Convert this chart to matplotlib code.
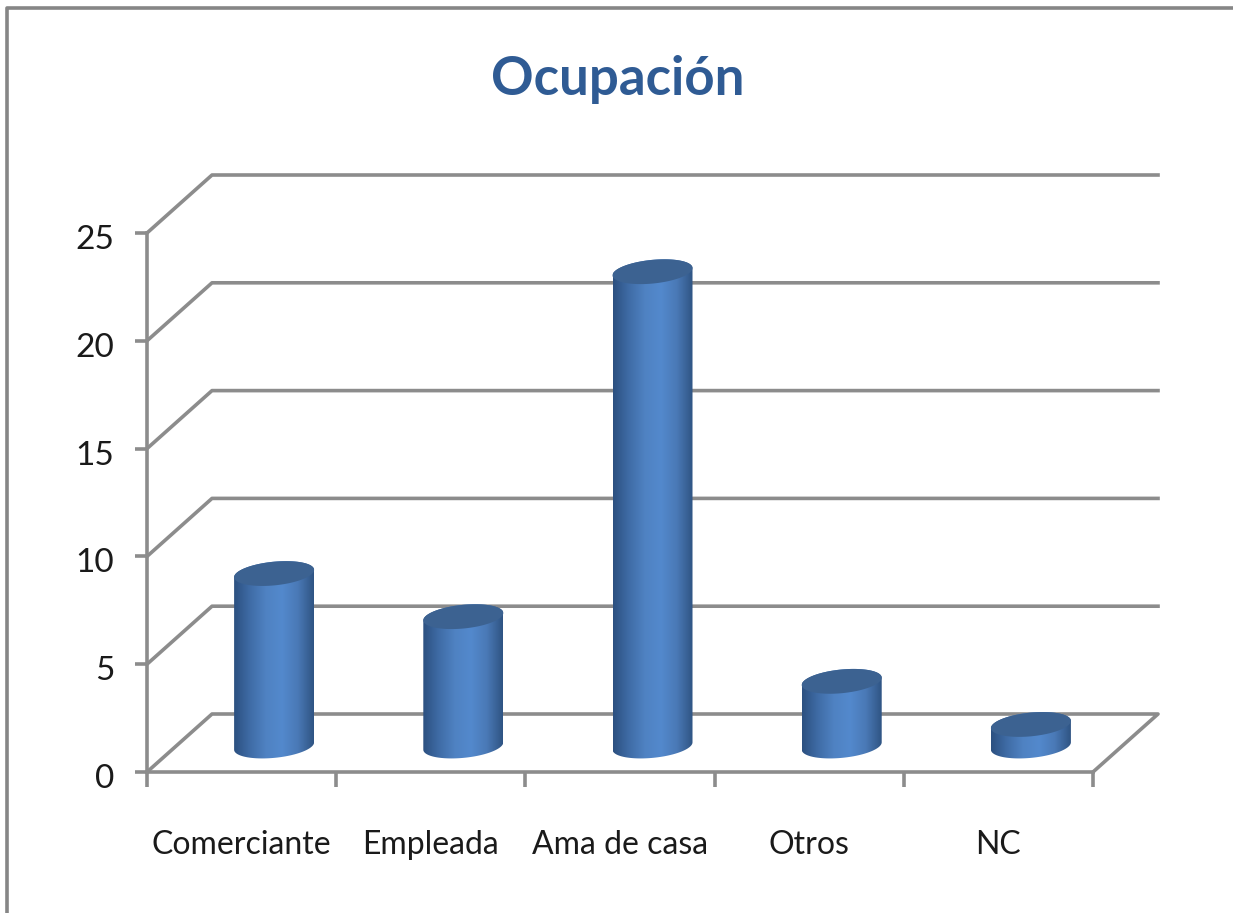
import numpy as np
import matplotlib
matplotlib.use("Agg")
import matplotlib.pyplot as plt
from matplotlib.colors import LinearSegmentedColormap
from matplotlib.lines import Line2D
from matplotlib.patches import Polygon
from matplotlib.transforms import ScaledTranslation

categories = ["Comerciante", "Empleada", "Ama de casa", "Otros", "NC"]
values = [8, 6, 22, 3, 1]
y_ticks = [0, 5, 10, 15, 20, 25]

GRAY = "#8c8c8c"

# 3d look, in data units (1 category = 189px, 1 unit = 21.56px)
depth_x = 0.3436
depth_y = 2.69
half_w = 0.2114
cap_h = 0.55
cap_tilt = 0.17

plt.rcParams["font.family"] = ["Lato", "DejaVu Sans"]

fig = plt.figure(figsize=(12.33, 9.13), dpi=100)
ax = fig.add_axes([147 / 1233, 1 - 772 / 913, 946 / 1233, 539 / 913])

shade = LinearSegmentedColormap.from_list(
    "cyl", ["#2c5080", "#3f6ca6", "#4f82c2", "#5389cd", "#4a79b6", "#2f5483"]
)
gradient = np.linspace(0, 1, 256).reshape(1, -1)


def ellipse_pts(cx, cy, t):
    return np.column_stack([
        cx + half_w * np.cos(t),
        cy + cap_h * np.sin(t) + cap_tilt * np.cos(t),
    ])


# back wall lines and floor
for v in y_ticks:
    if v == 0:
        ax.plot([0, depth_x, 5 + depth_x, 5], [0, depth_y, depth_y, 0],
                color=GRAY, lw=2.6, clip_on=False, zorder=1)
    else:
        ax.plot([0, depth_x, 5 + depth_x], [v, v + depth_y, v + depth_y],
                color=GRAY, lw=2.6, clip_on=False, zorder=1)

# cylinders
for i, v in enumerate(values):
    cx = i + 0.5 + depth_x / 2
    base = depth_y / 2 - 0.14
    top = base + v
    low = ellipse_pts(cx, base, np.linspace(np.pi, 2 * np.pi, 60))
    up = ellipse_pts(cx, top, np.linspace(0, np.pi, 60))
    body = Polygon(np.vstack([low, up]), closed=True, transform=ax.transData,
                   fc="none", ec="none")
    ax.add_patch(body)
    im = ax.imshow(gradient, cmap=shade, aspect="auto", interpolation="bilinear",
                   extent=[cx - half_w, cx + half_w, base - 1, top + 1],
                   zorder=3, clip_on=True)
    im.set_clip_path(body)
    cap = ellipse_pts(cx, top, np.linspace(0, 2 * np.pi, 120))
    ax.add_patch(Polygon(cap, closed=True, fc="#3c6291", ec="none", zorder=4,
                         clip_on=False))

ax.set_xlim(0, 5)
ax.set_ylim(0, 25)

for side in ["top", "right"]:
    ax.spines[side].set_visible(False)
for side in ["left", "bottom"]:
    ax.spines[side].set_color(GRAY)
    ax.spines[side].set_linewidth(2.6)

ax.set_yticks(y_ticks)
ax.tick_params(axis="y", length=8.5, width=2.6, color=GRAY, pad=15,
               labelsize=24, labelcolor="#1a1a1a")
# the numbers sit a bit under their ticks in the original
shift = ScaledTranslation(0, -4 / 100, fig.dpi_scale_trans)
for label in ax.get_yticklabels():
    label.set_transform(label.get_transform() + shift)

ax.set_xticks(np.arange(6))
ax.set_xticklabels([])
ax.tick_params(axis="x", which="major", length=11, width=2.6, color=GRAY)
ax.set_xticks(np.arange(5) + 0.5, categories, minor=True)
ax.tick_params(axis="x", which="minor", length=0, pad=42,
               labelsize=23, labelcolor="#1a1a1a")

fig.text(618 / 1233, 1 - 80 / 913, "Ocupación", ha="center", va="center",
         fontsize=38, fontweight="bold", color="#2f5b94")

# outer frame, only top and left show
fig.add_artist(Line2D([7 / 1233, 7 / 1233, 1], [0, 1 - 8 / 913, 1 - 8 / 913],
                      color="#868686", lw=2.6))

fig.savefig("out.png", dpi=100)
